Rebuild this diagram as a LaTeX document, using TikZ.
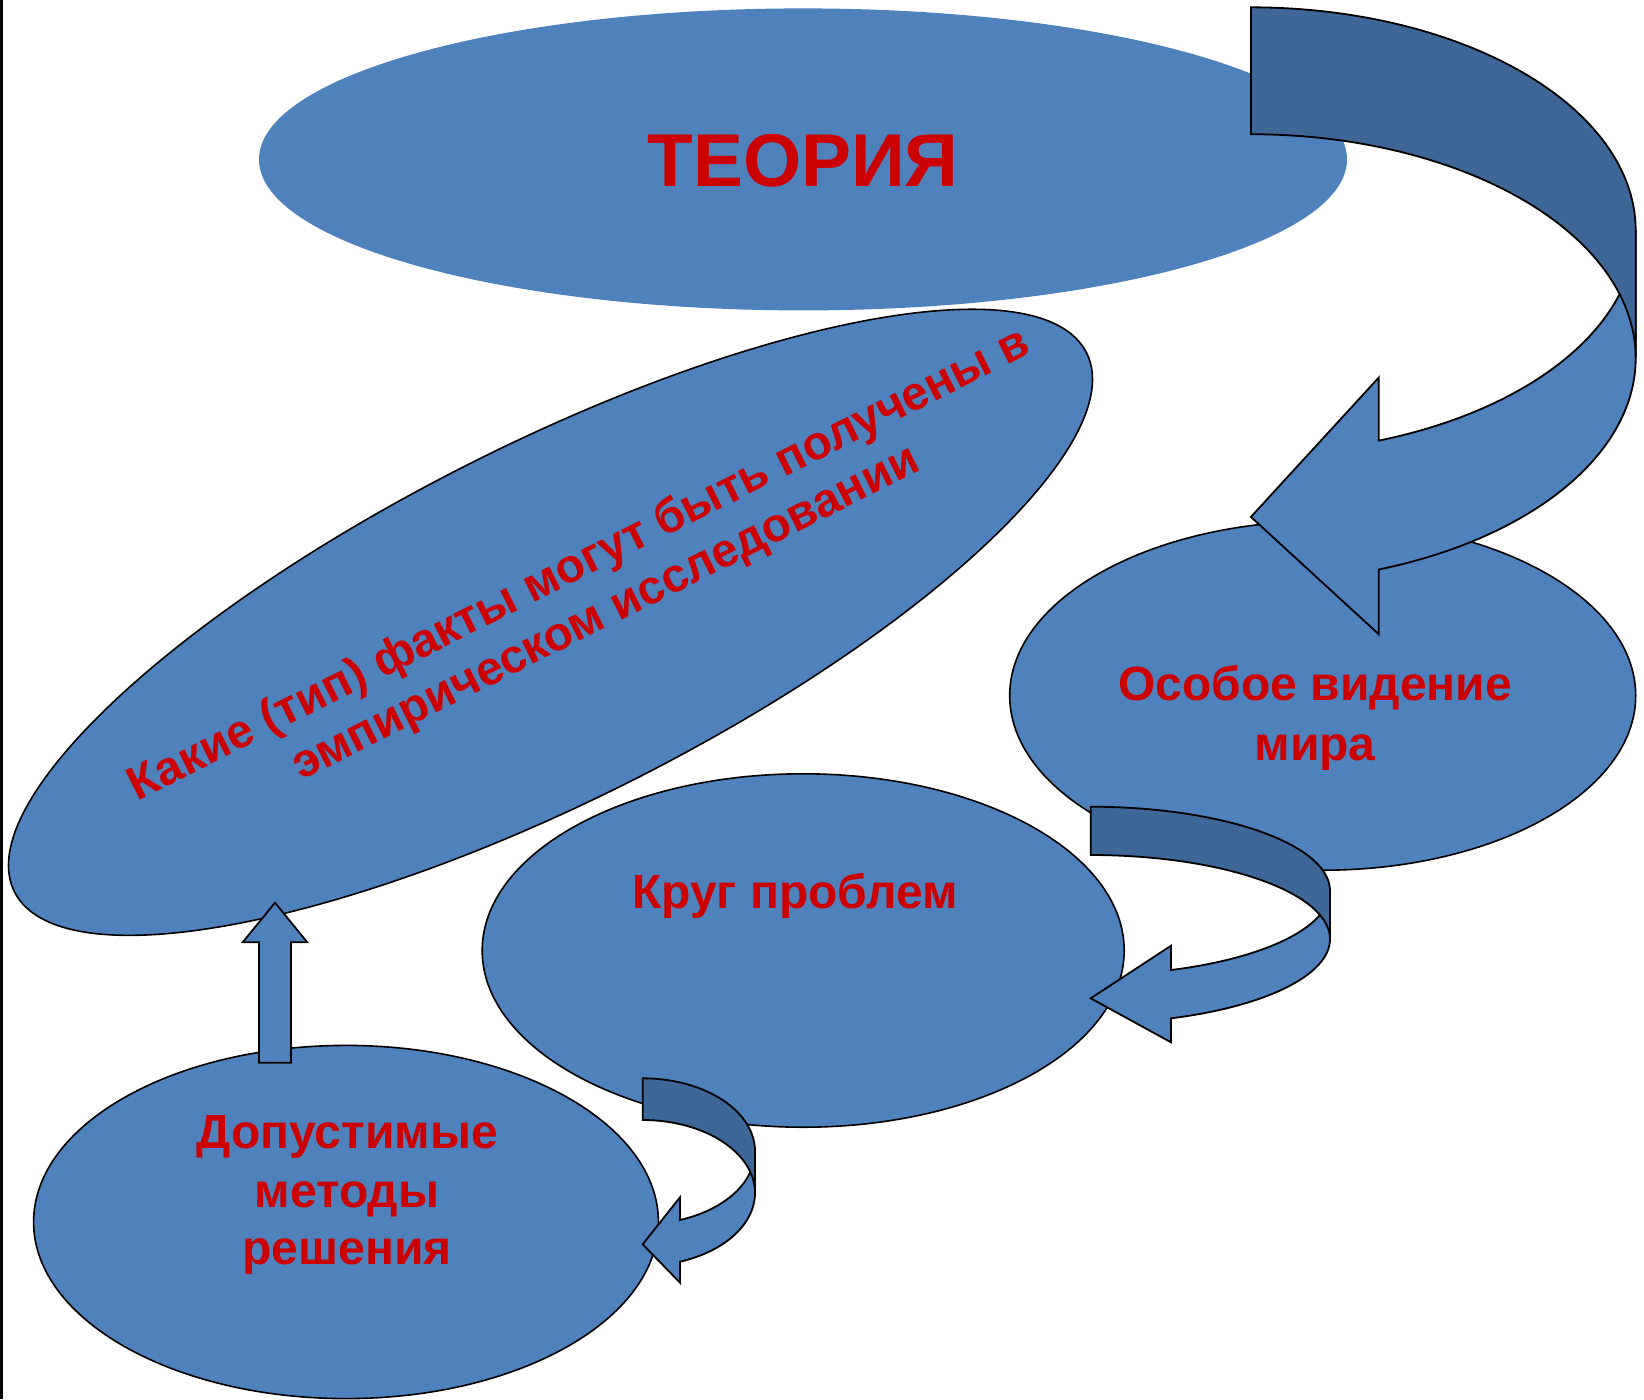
\documentclass[tikz,border=0pt]{standalone}
\usepackage{fontspec}
\setmainfont{Liberation Sans}
\usetikzlibrary{shapes.geometric}
\definecolor{boxblue}{RGB}{79,129,189}
\definecolor{bandblue}{RGB}{62,102,150}
\definecolor{txtred}{RGB}{204,0,0}
\tikzset{
  blob/.style={ellipse, fill=boxblue, draw=black, line width=0.8pt, inner sep=0pt},
  frontband/.style={fill=boxblue, draw=black, line width=0.9pt, line join=miter},
  backband/.style={fill=bandblue, draw=black, line width=0.9pt, line join=miter},
  lbl/.style={font=\bfseries\fontsize{24}{29}\selectfont, text=txtred, inner sep=0pt, anchor=base},
  difflbl/.style={font=\bfseries\fontsize{23.7}{28}\selectfont, text=txtred, inner sep=0pt, anchor=base, rotate=26.6},
  biglbl/.style={font=\bfseries\fontsize{37.4}{44}\selectfont, text=txtred, inner sep=0pt, anchor=base}
}
\begin{document}
\begin{tikzpicture}[x=0.5pt, y=-0.5pt]
\useasboundingbox (0,0) rectangle (1644,1399);
\fill[white] (0,0) rectangle (1644,1399);
\fill[black] (0,0) rectangle (3,1399);

% ellipses
\node[blob, draw=none, minimum width=544pt, minimum height=151pt] (teoria) at (803,159.4) {};
\node[blob, rotate=26.7, minimum width=600pt, minimum height=178pt] (fakty) at (550.5,622.3) {};
\node[blob, minimum width=313pt, minimum height=174.6pt] (osoboe) at (1322.7,695.6) {};
\node[blob, minimum width=321pt, minimum height=176.7pt] (krug) at (803.2,950.5) {};
\node[blob, minimum width=312.4pt, minimum height=176.6pt] (metody) at (346,1222) {};

% up block arrow from metody to fakty
\filldraw[frontband] (259,1062.7) -- (259,942.3) -- (242.7,942.3) -- (275,902.7)
  -- (307.3,942.3) -- (291,942.3) -- (291,1062.7) -- cycle;

% big curved ribbon arrow: theory -> osoboe
\filldraw[frontband] plot[domain=0:70.59, samples=60] ({1250.9+384.8*cos(\x)},{230.3+223*sin(\x)})
  -- (1378.8,377.5) -- (1250.9,516.9) -- (1378.8,634.3)
  -- plot[domain=70.59:0, samples=60] ({1250.9+384.8*cos(\x)},{358.2+224*sin(\x)}) -- cycle;
\filldraw[backband] plot[domain=-90:0, samples=60] ({1250.9+384.8*cos(\x)},{230.3+223*sin(\x)})
  -- plot[domain=0:-90, samples=60] ({1250.9+384.8*cos(\x)},{358.2+224*sin(\x)}) -- cycle;

% curved ribbon arrow: osoboe -> krug
\filldraw[frontband] plot[domain=0:70.39, samples=40] ({1090.7+239.3*cos(\x)},{890.8+84.1*sin(\x)})
  -- (1171,945.7) -- (1090.7,998.3) -- (1171,1042.3)
  -- plot[domain=70.39:0, samples=40] ({1090.7+239.3*cos(\x)},{939.1+84.1*sin(\x)}) -- cycle;
\filldraw[backband] plot[domain=-90:0, samples=40] ({1090.7+239.3*cos(\x)},{890.8+84.1*sin(\x)})
  -- plot[domain=0:-90, samples=40] ({1090.7+239.3*cos(\x)},{939.1+84.1*sin(\x)}) -- cycle;

% curved ribbon arrow: krug -> metody
\filldraw[frontband] plot[domain=0:70.6, samples=40] ({642.7+112.3*cos(\x)},{1151.2+72.9*sin(\x)})
  -- (680,1197.3) -- (642.7,1244.3) -- (680,1282.7)
  -- plot[domain=70.6:0, samples=40] ({642.7+112.3*cos(\x)},{1192.9+72.9*sin(\x)}) -- cycle;
\filldraw[backband] plot[domain=-90:0, samples=40] ({642.7+112.3*cos(\x)},{1151.2+72.9*sin(\x)})
  -- plot[domain=0:-90, samples=40] ({642.7+112.3*cos(\x)},{1192.9+72.9*sin(\x)}) -- cycle;

% texts
\node[biglbl] (tTeoria) at (803,186) {ТЕОРИЯ};
\node[difflbl] (tFakty1) at (585,577) {Какие (тип) факты могут быть получены в};
\node[difflbl] (tFakty2) at (612,625) {эмпирическом исследовании};
\node[lbl] (tOsoboe1) at (1315,700) {Особое видение};
\node[lbl] (tOsoboe2) at (1315,760) {мира};
\node[lbl] (tKrug) at (795,908.3) {Круг проблем};
\node[lbl] (tMet1) at (347,1148) {Допустимые};
\node[lbl] (tMet2) at (347,1207) {методы};
\node[lbl] (tMet3) at (347,1264) {решения};
\end{tikzpicture}
\end{document}
